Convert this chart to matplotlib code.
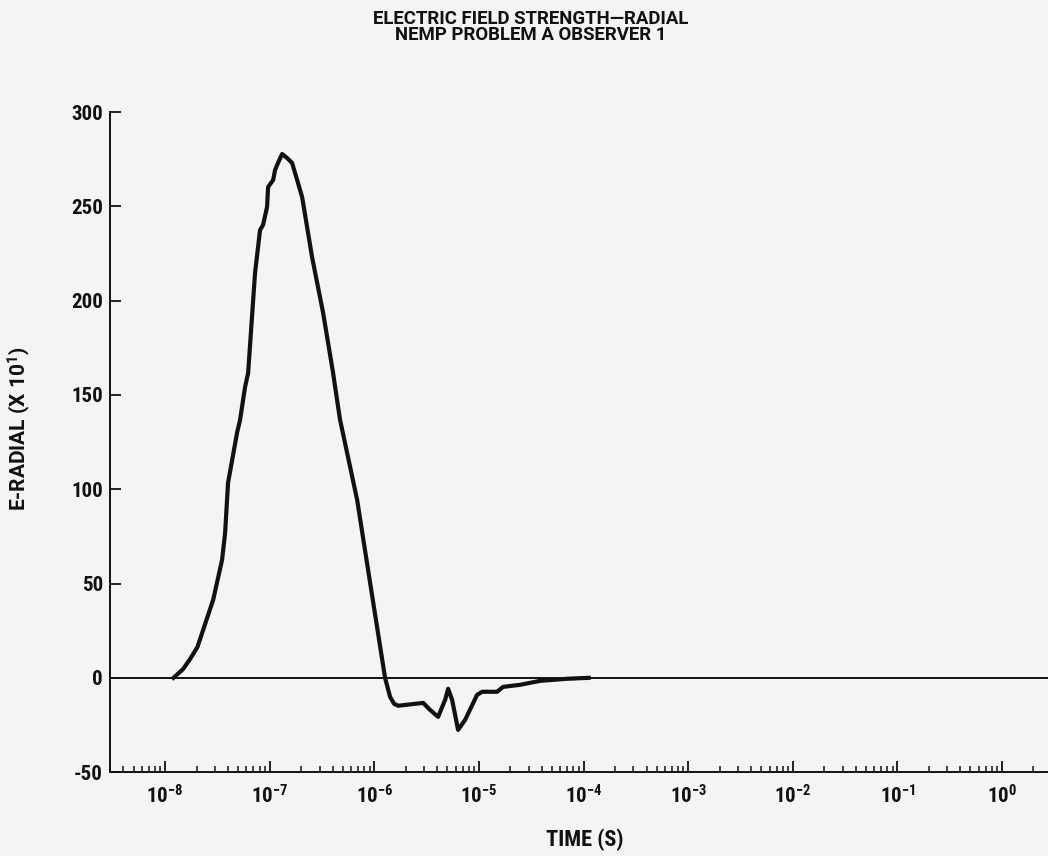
import numpy as np
import matplotlib.pyplot as plt
from matplotlib import font_manager
from matplotlib.ticker import LogLocator, FixedLocator, FuncFormatter, NullFormatter

# buscar una fuente estrecha y negrita, parecida al original escaneado
disponibles = {f.name for f in font_manager.fontManager.ttflist}
candidatas = ['Liberation Sans Narrow', 'Roboto Condensed', 'Open Sans Condensed',
              'DejaVu Sans Condensed', 'Noto Sans Display', 'Roboto']
familia = next((c for c in candidatas if c in disponibles), 'DejaVu Sans')
ancha = 'Roboto' if 'Roboto' in disponibles else familia  # para titulo y etiqueta y
plt.rcParams['font.family'] = [familia, 'DejaVu Sans']
plt.rcParams['font.weight'] = 'bold'
plt.rcParams['font.stretch'] = 'condensed'
plt.rcParams['mathtext.default'] = 'regular'
plt.rcParams['axes.unicode_minus'] = False

# datos (log10 del tiempo en s, E-radial x 10^1)
log_tiempo = [-7.92, -7.83, -7.76, -7.69, -7.54, -7.455, -7.426, -7.398, -7.312, -7.283,
              -7.254, -7.235, -7.206, -7.14, -7.092, -7.063, -7.025, -7.015, -6.967, -6.948,
              -6.92, -6.881, -6.834, -6.786, -6.738, -6.69, -6.595, -6.489, -6.394, -6.356,
              -6.327, -6.164, -6.04, -5.897, -5.849, -5.81, -5.772, -5.533, -5.467, -5.39,
              -5.323, -5.294, -5.256, -5.199, -5.132, -5.017, -4.969, -4.826, -4.769, -4.606,
              -4.415, -4.157, -3.95]
e_radial = [0, 4.5, 10.0, 16.4, 41.4, 62.6, 76.9, 103.4, 129.9, 136.8,
            147.4, 154.3, 161.7, 214.7, 237.5, 240.2, 249.7, 260.3, 264.0, 269.4,
            273.1, 277.8, 275.7, 273.1, 264.1, 255.0, 223.2, 193.5, 161.7, 147.4,
            136.8, 94.4, 50.4, 0, -10.1, -13.8, -14.8, -13.3, -17.0, -20.7,
            -11.7, -5.8, -11.7, -27.6, -22.3, -9.0, -7.4, -7.4, -4.8, -3.7,
            -1.6, -0.5, 0]
ticks_y = [-50, 0, 50, 100, 150, 200, 250, 300]
titulo = ['ELECTRIC FIELD STRENGTH\u2014RADIAL', 'NEMP PROBLEM A OBSERVER 1']

tiempo = 10.0 ** np.array(log_tiempo)
tinta = '#111111'
x_min, x_max = 10 ** -8.526, 10 ** 0.44

fig = plt.figure(figsize=(10.48, 8.56), dpi=100, facecolor='#f4f4f4')
ax = fig.add_axes([0.105, 0.098, 0.895, 0.771], facecolor='#f4f4f4')

ax.axhline(0, color=tinta, lw=1.4, zorder=1)
ax.plot(tiempo, e_radial, color=tinta, lw=3.0, solid_joinstyle='round', zorder=2)

ax.set_xscale('log')
ax.set_xlim(x_min, x_max)
ax.set_ylim(-50, 300)

for lado in ['top', 'right']:
    ax.spines[lado].set_visible(False)
for lado in ['left', 'bottom']:
    ax.spines[lado].set_linewidth(1.4)
    ax.spines[lado].set_color(tinta)


def etiqueta_x(v, p):
    # solo las decadas visibles llevan texto
    if v < x_min or v > x_max:
        return ''
    return r'$10^{%d}$' % round(np.log10(v))


ax.xaxis.set_major_locator(LogLocator(base=10, numticks=20))
ax.xaxis.set_minor_locator(LogLocator(base=10, subs=np.arange(2, 10), numticks=20))
ax.xaxis.set_major_formatter(FuncFormatter(etiqueta_x))
ax.xaxis.set_minor_formatter(NullFormatter())
ax.yaxis.set_major_locator(FixedLocator(ticks_y))
ax.set_yticklabels([str(v) for v in ticks_y])

ax.tick_params(axis='x', which='major', direction='in', length=8, width=1.3, pad=9,
               labelsize=15, colors=tinta)
ax.tick_params(axis='x', which='minor', direction='in', length=4.5, width=1.1, colors=tinta)
ax.tick_params(axis='y', which='major', direction='in', length=8, width=1.3, pad=5,
               labelsize=15, colors=tinta)

ax.set_xlabel('TIME (S)', fontsize=16, fontweight='bold', color=tinta)
ax.xaxis.set_label_coords((585 - 110) / (0.895 * 1048), -0.085)
ax.set_ylabel('E-RADIAL (X 10$^1$)', fontsize=15, fontweight='bold', color=tinta,
              family=[ancha, 'DejaVu Sans'], stretch='normal')
ax.yaxis.set_label_coords(-0.082, 0.52)

# titulo en dos lineas muy juntas
fig.text(0.506, 1 - 19 / 856, titulo[0], ha='center', va='center', fontsize=13.4,
         fontweight='bold', color=tinta, family=[ancha, 'DejaVu Sans'], stretch='normal')
fig.text(0.506, 1 - 35 / 856, titulo[1], ha='center', va='center', fontsize=13.4,
         fontweight='bold', color=tinta, family=[ancha, 'DejaVu Sans'], stretch='normal')

fig.savefig('out.png', dpi=100, facecolor=fig.get_facecolor())
